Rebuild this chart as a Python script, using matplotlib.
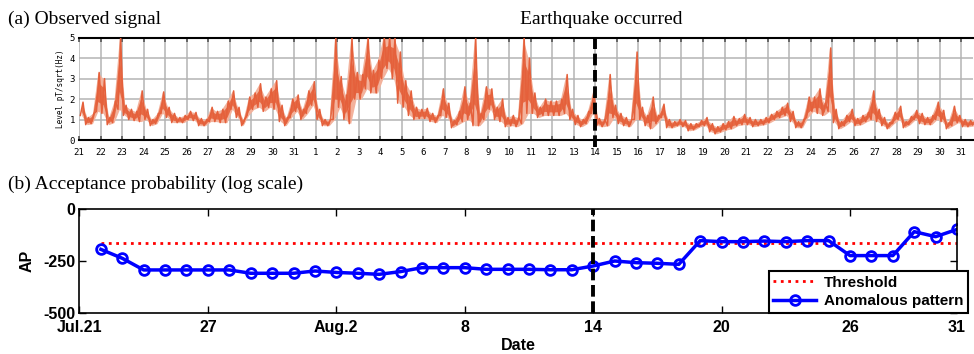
import numpy as np
import matplotlib.pyplot as plt

#%% data
# (a) observed signal, 4 bins per day from Jul.21 (low / high of the trace in each bin)
sig_lo = [1.2, 0.75, 0.8, 1.4,   1.3, 0.75, 0.85, 1.5,   1.2, 1.0, 0.95, 0.9,
          1.0, 0.7, 0.8, 1.3,    1.1, 0.85, 0.85, 0.85,  1.0, 0.95, 0.7, 0.7,
          0.9, 0.9, 0.85, 0.85,  1.5, 1.1, 0.7, 1.2,     1.5, 1.6, 1.4, 1.6,
          1.5, 0.9, 0.7, 1.1,    1.4, 1.0, 1.3, 1.7,     1.0, 0.7, 0.7, 1.0,
          1.6, 1.0, 0.8, 2.0,    2.0, 2.5, 2.3, 2.3,     3.0, 3.5, 3.0, 1.8,
          1.6, 1.2, 1.0, 1.05,   1.05, 0.9, 0.85, 1.2,   1.1, 0.6, 0.75, 0.9,
          1.0, 0.7, 0.7, 1.0,    1.5, 1.0, 0.9, 0.65,    0.7, 0.65, 0.8, 1.3,
          1.3, 1.1, 1.2, 1.2,    1.2, 1.2, 1.3, 1.0,     0.75, 0.65, 0.8, 1.3,
          0.7, 0.65, 0.7, 1.1,   0.8, 0.7, 0.65, 1.0,    1.0, 0.7, 0.55, 0.8,
          1.1, 0.6, 0.6, 0.7,    0.65, 0.45, 0.5, 0.65,  0.7, 0.4, 0.3, 0.4,
          0.5, 0.55, 0.7, 0.75,  0.75, 0.65, 0.7, 0.75,  0.85, 1.0, 1.1, 1.2,
          0.9, 0.6, 0.6, 1.1,    1.4, 1.3, 1.2, 1.4,     0.85, 0.55, 0.7, 0.9,
          0.7, 0.75, 0.9, 1.0,   0.9, 0.7, 0.55, 0.8,    1.0, 0.6, 0.75, 1.0,
          0.8, 0.75, 0.75, 1.0,  0.9, 0.55, 0.7, 0.85,   0.65, 0.65, 0.7]
sig_hi = [1.85, 1.1, 1.3, 3.3,   3.0, 1.1, 1.9, 5.0,     1.7, 1.5, 1.4, 2.4,
          1.5, 1.0, 1.3, 2.35,   1.6, 1.3, 1.1, 1.2,     1.4, 1.35, 1.05, 1.0,
          1.6, 1.4, 1.5, 1.9,    2.4, 1.6, 1.0, 2.1,     2.3, 2.75, 2.1, 2.5,
          2.9, 1.7, 1.1, 2.0,    2.2, 1.5, 2.4, 2.85,    1.5, 1.0, 1.0, 5.0,
          3.1, 2.2, 5.0, 3.3,    3.2, 5.0, 3.4, 3.9,     5.0, 5.0, 5.0, 4.3,
          2.9, 2.4, 1.6, 1.5,    1.55, 1.3, 1.2, 2.5,    1.8, 0.95, 1.4, 2.6,
          1.8, 5.0, 1.3, 2.6,    2.5, 1.6, 2.0, 1.1,     1.2, 1.1, 5.0, 4.0,
          2.3, 1.6, 2.0, 1.9,    1.9, 2.0, 3.2, 1.5,     1.2, 1.0, 1.4, 2.4,
          1.05, 1.0, 3.2, 1.7,   1.3, 1.1, 1.0, 4.3,     1.6, 1.2, 2.1, 1.2,
          1.75, 1.0, 0.9, 1.0,   0.95, 0.8, 0.8, 0.95,   1.1, 0.8, 0.65, 0.8,
          0.9, 1.15, 1.05, 1.25, 1.1, 1.0, 1.0, 1.1,     1.25, 1.4, 1.6, 1.8,
          1.4, 0.9, 1.0, 2.1,    2.1, 2.5, 1.8, 4.5,     1.5, 0.9, 1.2, 1.5,
          1.05, 1.2, 1.35, 2.4,  1.5, 1.1, 0.85, 1.35,   1.65, 0.9, 1.15, 1.45,
          1.3, 1.1, 1.2, 1.85,   1.45, 0.85, 1.65, 1.2,  1.0, 0.95, 1.0]
day_labels = [str(d) for d in range(21, 32)] + [str(d) for d in range(1, 32)]

# (b) acceptance probability, one point per day from Jul.22
ap = [-194, -237, -293, -293, -293, -293, -293, -309, -309, -309, -298,
      -305, -309, -314, -301, -282, -282, -282, -290, -290, -290, -292, -292,
      -274, -250, -258, -261, -266, -152, -157, -157, -154, -157, -152, -152,
      -224, -224, -224, -109, -133, -98]
threshold = -165
date_ticks = [0, 6, 12, 18, 24, 30, 36, 41]
date_labels = ['Jul.21', '27', 'Aug.2', '8', '14', '20', '26', '31']
quake_day = 24

#%% figure
fig = plt.figure(figsize=(9.74, 3.54), dpi=100)
serif = 'Liberation Serif'
sans = 'Liberation Sans'
mono = 'DejaVu Sans Mono'

fig.text(0.008, 0.946, '(a) Observed signal', family=serif, fontsize=14, va='center')
fig.text(0.617, 0.946, 'Earthquake occurred', family=serif, fontsize=14, va='center', ha='center')
fig.text(0.008, 0.480, '(b) Acceptance probability (log scale)', family=serif,
         fontsize=14, va='center')

#%% (a) signal
ax1 = fig.add_axes([0.0811, 0.6045, 0.9179, 0.289])
lo = np.array(sig_lo)
hi = np.array(sig_hi)
t = np.arange(len(lo)) / 4.0
mid = (lo + hi) / 2
# light envelope, solid core, then the lo/hi zigzag for the noisy look
ax1.fill_between(t + 0.125, lo, hi, color='#f3b29c', lw=0, zorder=2)
ax1.fill_between(t + 0.125, (lo + mid) / 2, (hi + mid) / 2, color='#e66a45',
                 lw=0, zorder=3)
zx = np.column_stack([t + 0.0625, t + 0.1875]).ravel()
zy = np.column_stack([lo, hi]).ravel()
ax1.plot(zx, zy, color='#e5603b', lw=1.1, zorder=4)
ax1.set_xlim(0, 41.55)
ax1.set_ylim(0, 5)
ax1.set_xticks(range(len(day_labels)))
ax1.set_xticklabels(day_labels, family=mono, fontsize=6.5)
ax1.set_yticks(range(6))
ax1.set_yticklabels([str(v) for v in range(6)], family=mono, fontsize=6.5)
ax1.tick_params(axis='x', direction='in', top=True, length=3, width=1.2,
                color='#555555', pad=6)
ax1.tick_params(axis='y', length=0, pad=3)
ax1.grid(True, color='#b4b4b4', lw=1.1, zorder=0)
ax1.set_axisbelow(True)
for s in ['left', 'right']:
    ax1.spines[s].set_visible(False)
for s in ['top', 'bottom']:
    ax1.spines[s].set_linewidth(1.5)
ax1.set_ylabel('Level pT/sqrt(Hz)', family=mono, fontsize=5.5, labelpad=3)
ax1.axvline(quake_day, ymin=-0.07, ymax=1.02, color='black', lw=2.8,
            dashes=(3, 1.2), clip_on=False, zorder=5)

#%% (b) acceptance probability
ax2 = fig.add_axes([0.0816, 0.1158, 0.901, 0.2938])
days = np.arange(1, len(ap) + 1)
ax2.plot([days[0], days[-1]], [threshold, threshold], color='red', ls=':', lw=2,
         label='Threshold')
ax2.plot(days, ap, color='blue', lw=2.5, marker='o', ms=7, mfc='none', mew=2,
         label='Anomalous pattern')
ax2.axvline(quake_day, color='black', lw=2.8, dashes=(3, 1.2), zorder=5)
ax2.set_xlim(0, 41)
ax2.set_ylim(-500, 0)
ax2.set_yticks([-500, -250, 0])
ax2.set_yticklabels(['-500', '-250', '0'])
ax2.set_xticks(date_ticks)
ax2.set_xticklabels(date_labels)
for lab in ax2.get_xticklabels() + ax2.get_yticklabels():
    lab.set_family(sans)
    lab.set_fontweight('bold')
    lab.set_fontsize(11.5)
ax2.tick_params(direction='in', top=True, right=True, length=5, width=1)
ax2.tick_params(axis='x', pad=5)
ax2.tick_params(axis='y', pad=3)
for s in ax2.spines.values():
    s.set_linewidth(1.2)
ax2.set_ylabel('AP', family=sans, fontweight='bold', fontsize=11.5, labelpad=6)
ax2.set_xlabel('Date', family=sans, fontweight='bold', fontsize=11.5, labelpad=2)
leg = ax2.legend(loc='lower right', bbox_to_anchor=(0.9938, 0.1158),
                 bbox_transform=fig.transFigure, borderaxespad=0, fancybox=False,
                 framealpha=1, edgecolor='black', handlelength=2.8,
                 prop={'family': sans, 'weight': 'bold', 'size': 11},
                 borderpad=0.3, labelspacing=0.3, handletextpad=0.5)
leg.get_frame().set_linewidth(1.5)

fig.savefig('out.png', dpi=100)
